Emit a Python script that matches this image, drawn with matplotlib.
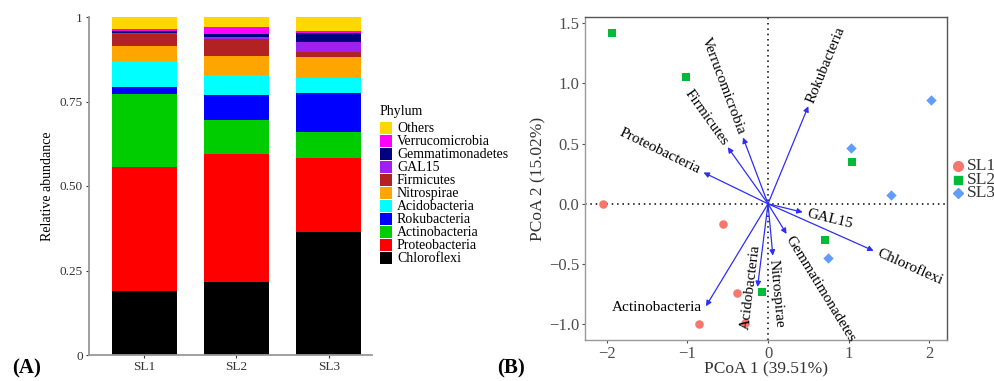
import matplotlib
matplotlib.use('Agg')
import matplotlib.pyplot as plt
from matplotlib.patches import Rectangle
from matplotlib.lines import Line2D
import numpy as np

plt.rcParams['font.family'] = ['Liberation Serif', 'DejaVu Serif']

# ---- panel A data: relative abundance per sample (stack order bottom -> top)
samples = ['SL1', 'SL2', 'SL3']
phyla = ['Chloroflexi', 'Proteobacteria', 'Actinobacteria', 'Rokubacteria',
         'Acidobacteria', 'Nitrospirae', 'Firmicutes', 'GAL15',
         'Gemmatimonadetes', 'Verrucomicrobia', 'Others']
chloroflexi = [0.190, 0.215, 0.363]
proteobacteria = [0.365, 0.381, 0.220]
actinobacteria = [0.217, 0.098, 0.077]
rokubacteria = [0.020, 0.074, 0.114]
acidobacteria = [0.078, 0.059, 0.047]
nitrospirae = [0.044, 0.059, 0.061]
firmicutes = [0.037, 0.049, 0.014]
gal15 = [0.002, 0.005, 0.030]
gemmatimonadetes = [0.007, 0.010, 0.028]
verrucomicrobia = [0.004, 0.019, 0.005]
others = [0.036, 0.031, 0.041]
phylum_colors = ['#000000', '#FF0000', '#00CD00', '#0000FF', '#00FFFF',
                 '#FFA500', '#B22222', '#A020F0', '#000080', '#FF00FF', '#FFD700']

# ---- panel B data: PCoA scores and phylum vectors
sl1_x = [-2.05, -0.56, -0.38, -0.28, -0.86]
sl1_y = [0.00, -0.17, -0.74, -0.99, -1.00]
sl2_x = [-1.93, -1.02, 1.04, 0.71, -0.08]
sl2_y = [1.42, 1.05, 0.35, -0.30, -0.73]
sl3_x = [2.02, 1.03, 1.53, 0.75]
sl3_y = [0.86, 0.46, 0.07, -0.45]
vec_names = ['Rokubacteria', 'Verrucomicrobia', 'Firmicutes', 'Proteobacteria',
             'GAL15', 'Chloroflexi', 'Gemmatimonadetes', 'Nitrospirae',
             'Acidobacteria', 'Actinobacteria']
vec_x = [0.50, -0.31, -0.50, -0.80, 0.43, 1.31, 0.23, 0.06, -0.13, -0.77]
vec_y = [0.81, 0.55, 0.47, 0.26, -0.07, -0.39, -0.25, -0.43, -0.69, -0.85]

W, H = 995, 381
fig = plt.figure(figsize=(W / 100, H / 100), dpi=100)


def frect(x0, y0, x1, y1):
    # pixel box (top-left origin) -> figure fraction rect
    return [x0 / W, 1 - y1 / H, (x1 - x0) / W, (y1 - y0) / H]


# ================= panel A =================
axA = fig.add_axes(frect(89, 17, 372, 355))
abund = [chloroflexi, proteobacteria, actinobacteria, rokubacteria, acidobacteria,
         nitrospirae, firmicutes, gal15, gemmatimonadetes, verrucomicrobia, others]
xpos = np.arange(1, len(samples) + 1)
bottom = np.zeros(len(samples))
for vals, col in zip(abund, phylum_colors):
    axA.bar(xpos, vals, width=0.7, bottom=bottom, color=col, linewidth=0)
    bottom += np.array(vals)
axA.set_xlim(0.4, 3.47)
axA.set_ylim(0, 1)
axA.set_xticks(xpos)
axA.set_xticklabels(samples)
axA.set_yticks([0, 0.25, 0.5, 0.75, 1])
axA.set_yticklabels(['0', '0.25', '0.50', '0.75', '1'])
axA.tick_params(labelsize=9.5, colors='#333333', length=2.5, width=0.8, pad=2)
for s in ['top', 'right']:
    axA.spines[s].set_visible(False)
for s in ['left', 'bottom']:
    axA.spines[s].set_color('#999999')
    axA.spines[s].set_linewidth(1.3)
axA.set_ylabel('Relative abundance', fontsize=10, labelpad=4)

# legend for panel A (drawn by hand, Others on top)
fig.text(380 / W, 1 - 112 / H, 'Phylum', fontsize=10, va='center', ha='left')
for i, (name, col) in enumerate(zip(phyla[::-1], phylum_colors[::-1])):
    yc = 128.3 + i * 13.0
    fig.add_artist(Rectangle((380 / W, 1 - (yc + 6) / H), 12 / W, 12 / H,
                             transform=fig.transFigure, color=col, lw=0))
    fig.text(397 / W, 1 - yc / H, name, fontsize=10, va='center', ha='left')

fig.text(12 / W, 1 - 368 / H, '(A)', fontsize=15, fontweight='bold', va='center')
fig.text(497 / W, 1 - 368 / H, '(B)', fontsize=15, fontweight='bold', va='center')

# ================= panel B =================
axB = fig.add_axes(frect(585, 17, 947, 340))
axB.set_xlim(-2.27, 2.22)
axB.set_ylim(-1.13, 1.55)
axB.axhline(0, color='black', ls=(0, (1, 2.5)), lw=1.1, zorder=1)
axB.axvline(0, color='black', ls=(0, (1, 2.5)), lw=1.1, zorder=1)

axB.scatter(sl1_x, sl1_y, marker='o', s=38, color='#F8766D', lw=0, zorder=3)
axB.scatter(sl2_x, sl2_y, marker='s', s=26, color='#00BA38', lw=0, zorder=3)
axB.scatter(sl3_x, sl3_y, marker='D', s=28, color='#619CFF', lw=0, zorder=3)

arrow_col = '#2E2EF5'
special = {'Actinobacteria': dict(rotation=0, ha='right', va='center', off=(-3, -1)),
           'Acidobacteria': dict(ha='center', off=(-5, 0))}
for name, vx, vy in zip(vec_names, vec_x, vec_y):
    axB.annotate('', xy=(vx, vy), xytext=(0, 0),
                 arrowprops=dict(arrowstyle='-|>', color=arrow_col, lw=0.9,
                                 mutation_scale=8, shrinkA=0, shrinkB=0), zorder=2)
    p0 = axB.transData.transform((0, 0))
    p1 = axB.transData.transform((vx, vy))
    dx, dy = p1 - p0
    ang = np.degrees(np.arctan2(dy, dx))
    ux, uy = dx / np.hypot(dx, dy), dy / np.hypot(dx, dy)
    if dx >= 0:
        rot, ha = ang, 'left'
    else:
        rot, ha = (ang - 180 if ang > 0 else ang + 180), 'right'
    va = 'center'
    off = (ux * 3, uy * 3)
    sp = special.get(name)
    if sp:
        rot = sp.get('rotation', rot)
        ha = sp.get('ha', ha)
        va = sp.get('va', va)
        off = sp.get('off', off)
    axB.annotate(name, xy=(vx, vy), xytext=off, textcoords='offset points',
                 rotation=rot, rotation_mode='anchor', ha=ha, va=va,
                 fontsize=11, color='black', zorder=4)

axB.set_xticks([-2, -1, 0, 1, 2])
axB.set_xticklabels(['\u22122', '\u22121', '0', '1', '2'])
axB.set_yticks([-1.0, -0.5, 0.0, 0.5, 1.0, 1.5])
axB.set_yticklabels(['\u22121.0', '\u22120.5', '0.0', '0.5', '1.0', '1.5'])
axB.tick_params(labelsize=12, colors='#4D4D4D', length=2.5, width=0.8, pad=1.5)
for s in axB.spines.values():
    s.set_color('#555555')
    s.set_linewidth(1.0)
axB.spines['left'].set_color('#999999')
axB.spines['bottom'].set_color('#999999')
axB.set_xlabel('PCoA 1 (39.51%)', fontsize=12.5, labelpad=0, color='#333333')
axB.set_ylabel('PCoA 2 (15.02%)', fontsize=12.5, labelpad=2, color='#333333')

# legend for panel B
groups = ['SL1', 'SL2', 'SL3']
gmark = ['o', 's', 'D']
gcol = ['#F8766D', '#00BA38', '#619CFF']
gsize = [7, 5.5, 5.5]
for i, (g, m, c, ms) in enumerate(zip(groups, gmark, gcol, gsize)):
    yc = 166 + i * 13.5
    fig.add_artist(Line2D([958 / W], [1 - yc / H], marker=m, color=c, markersize=ms,
                          lw=0, transform=fig.transFigure))
    fig.text(967 / W, 1 - yc / H, g, fontsize=12.5, va='center', ha='left', color='#333333')

fig.savefig('out.png', dpi=100)
